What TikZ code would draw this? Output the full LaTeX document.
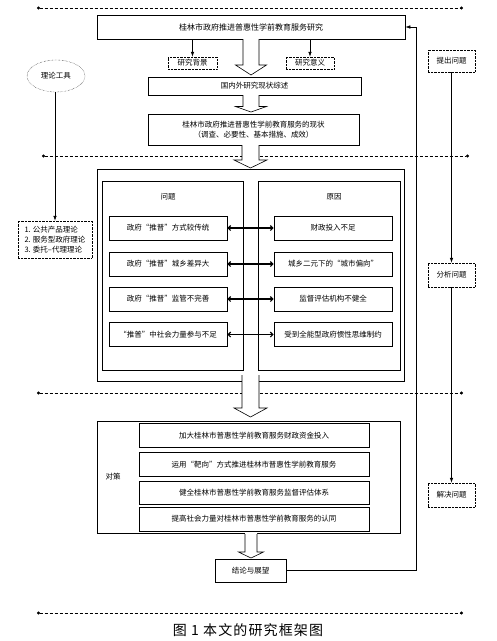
\documentclass[tikz,border=0pt]{standalone}
\usepackage{fontspec}
\setmainfont{Noto Sans CJK SC}
\usepackage{tikz}
\usetikzlibrary{arrows.meta}
\usetikzlibrary{shapes.geometric, shadows}
\tikzset{
box/.style = { rectangle, draw = black, fill = white, line width = 0.6pt, inner sep = 0pt, align = center, font = \fontsize{7.5}{10}\selectfont, drop shadow = {shadow xshift = 0.9pt, shadow yshift = -0.9pt, opacity = 1, fill = black} },
frame/.style = { rectangle, draw = black, fill = white, line width = 0.7pt, inner sep = 0pt, drop shadow = {shadow xshift = 0.7pt, shadow yshift = -0.7pt, opacity = 1, fill = black} },
tag/.style = { rectangle, draw = black, densely dotted, fill = white, inner sep = 0pt, font = \fontsize{7.5}{10}\selectfont },
label/.style = { inner sep = 0pt, font = \fontsize{7.5}{10}\selectfont },
sep/.style = { dash pattern = on 3pt off 2pt, line width = 0.6pt, {Circle[length = 3pt]}-{Circle[length = 3pt]} },
flow/.style = { line width = 0.6pt, -{Latex[length = 5pt, width = 3.5pt]} },
pair/.style = { line width = 1.2pt, {Straight Barb[length = 2.5pt, width = 5pt]}-{Straight Barb[length = 2.5pt, width = 5pt]} },
}
\tikzset{
pics/fat arrow/.style n args = {4}{
        code = {
        % #1 half shaft, #2 half head, #3 length, #4 head length
        \path[fill = white] (-#1, -1) -- (-#1, #3 - #4) -- (-#2, #3 - #4) -- (0, #3) -- (#2, #3 - #4) -- (#1, #3 - #4) -- (#1, -1) -- cycle;
        \draw[line width = 0.6pt] (-#1, 0) -- (-#1, #3 - #4) -- (-#2, #3 - #4) -- (0, #3) -- (#2, #3 - #4) -- (#1, #3 - #4) -- (#1, 0);
        }
    }
}

\begin{document}
\begin{tikzpicture}[x = 1pt, y = -1pt]
    \useasboundingbox (0, 0) rectangle (497, 641);
    % separators
    \draw[sep] (37, 8) -- (463, 8);
    \draw[sep] (42, 156) -- (469, 156);
    \draw[sep] (37, 393) -- (463, 393);
    \draw[sep] (37, 613) -- (463, 613);
    % research part
    \node[box, minimum width = 308pt, minimum height = 24pt, font = \fontsize{8}{10}\selectfont] (title) at (251, 27) {桂林市政府推进普惠性学前教育服务研究};
    \node[tag, minimum width = 49pt, minimum height = 12pt] (bg) at (192.5, 63) {研究背景};
    \node[tag, minimum width = 48pt, minimum height = 12pt] (sense) at (310, 63) {研究意义};
    \draw[flow] (bg.north |- title.south) -- (bg.north);
    \draw[flow] (sense.north |- title.south) -- (sense.north);
    \node[box, minimum width = 213pt, minimum height = 18pt] (review) at (254.5, 86) {国内外研究现状综述};
    \node[box, minimum width = 211pt, minimum height = 31pt] (status) at (253.5, 129.5) {桂林市政府推进普惠性学前教育服务的现状\\（调查、必要性、基本措施、成效）};
    \draw (251, 39) pic{fat arrow = {8}{15.5}{36}{10}};
    \draw (251, 95) pic{fat arrow = {8}{15.5}{17}{5.5}};
    % problems and causes
    \node[frame, minimum width = 307pt, minimum height = 212pt] (analysis) at (250.5, 275) {};
    \node[frame, minimum width = 141pt, minimum height = 189pt] (problem) at (172.5, 275.5) {};
    \node[frame, minimum width = 142pt, minimum height = 189pt] (cause) at (329, 275.5) {};
    \node[label] at (168, 197) {问题};
    \node[label] at (334, 197) {原因};
    \node[box, minimum width = 118pt, minimum height = 24pt] (p1) at (168, 228) {政府“推普”方式较传统};
    \node[box, minimum width = 118pt, minimum height = 24pt] (p2) at (168, 264) {政府“推普”城乡差异大};
    \node[box, minimum width = 118pt, minimum height = 24pt] (p3) at (168, 299) {政府“推普”监管不完善};
    \node[box, minimum width = 118pt, minimum height = 24pt] (p4) at (168, 334.5) {“推普”中社会力量参与不足};
    \node[box, minimum width = 118pt, minimum height = 24pt] (c1) at (333, 228) {财政投入不足};
    \node[box, minimum width = 118pt, minimum height = 24pt] (c2) at (333, 264) {城乡二元下的“城市偏向”};
    \node[box, minimum width = 118pt, minimum height = 24pt] (c3) at (333, 299) {监督评估机构不健全};
    \node[box, minimum width = 118pt, minimum height = 24pt] (c4) at (333, 334.5) {受到全能型政府惯性思维制约};
    \draw[pair] (p1.east) -- (c1.west);
    \draw[pair] (p2.east) -- (c2.west);
    \draw[pair] (p3.east) -- (c3.west);
    \draw[pair] (p4.east) -- (c4.west);
    \draw (250.5, 145) pic{fat arrow = {8.5}{16.5}{23}{8}};
    % measures
    \node[frame, minimum width = 303pt, minimum height = 112pt] (measure) at (248.5, 477) {};
    \node[label] at (113, 477) {对策};
    \node[box, minimum width = 230pt, minimum height = 24pt] (m1) at (254, 435.5) {加大桂林市普惠性学前教育服务财政资金投入};
    \node[box, minimum width = 230pt, minimum height = 24pt] (m2) at (254, 464.5) {运用“靶向”方式推进桂林市普惠性学前教育服务};
    \node[box, minimum width = 230pt, minimum height = 23pt] (m3) at (254, 492.5) {健全桂林市普惠性学前教育服务监督评估体系};
    \node[box, minimum width = 230pt, minimum height = 24pt] (m4) at (254, 519) {提高社会力量对桂林市普惠性学前教育服务的认同};
    \draw (250.5, 375) pic{fat arrow = {8.5}{16.5}{42}{9}};
    % conclusion
    \node[box, minimum width = 71pt, minimum height = 23pt] (concl) at (250.5, 570.5) {结论与展望};
    \draw (251, 534) pic{fat arrow = {6}{12.5}{24}{6}};
    \coordinate (back) at (416, 27);
    \draw[flow] (concl.east) -| (back) -- (title.east);
    % right column
    \node[tag, minimum width = 47pt, minimum height = 22pt] (raise) at (451.5, 61) {提出问题};
    \node[tag, minimum width = 47pt, minimum height = 24pt] (analyse) at (451.5, 275) {分析问题};
    \node[tag, minimum width = 47pt, minimum height = 24pt] (solve) at (451.5, 495) {解决问题};
    \draw[flow] (raise) -- (analyse);
    \draw[flow] (analyse) -- (solve);
    % theory tools
    \node[ellipse, draw = black, densely dotted, minimum width = 58pt, minimum height = 32pt, inner sep = 0pt, font = \fontsize{7.5}{10}\selectfont] (tool) at (56, 76) {理论工具};
    \node[tag, minimum width = 74pt, minimum height = 37pt, align = left] (theory) at (55, 239.5) {1. 公共产品理论\\2. 服务型政府理论\\3. 委托–代理理论};
    \draw[flow] (tool.south -| theory.north) -- (theory.north);
    % caption
    \node[font = \fontsize{14}{16}\selectfont\addfontfeatures{LetterSpace = 8}] (caption) at (248, 630) {图 1 本文的研究框架图};
\end{tikzpicture}
\end{document}
